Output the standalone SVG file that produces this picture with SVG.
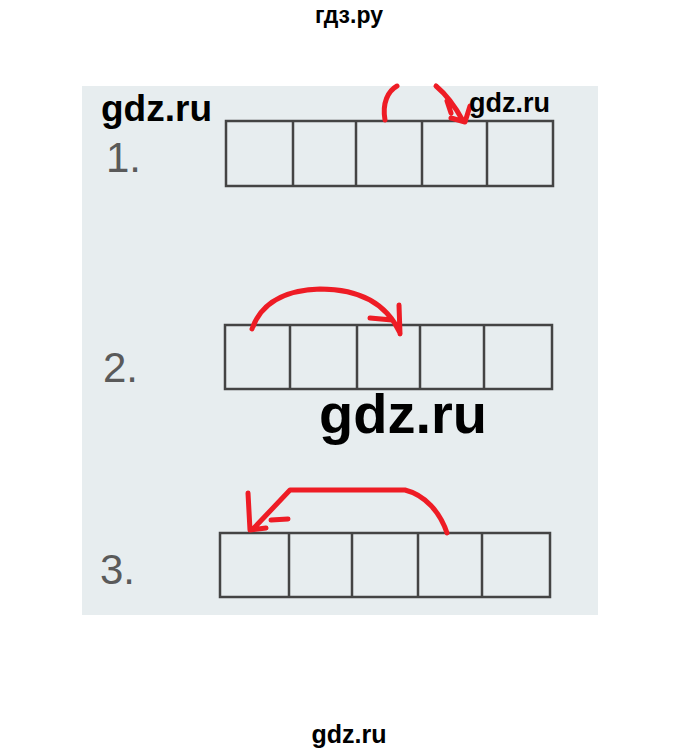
<svg xmlns="http://www.w3.org/2000/svg" width="698" height="753" viewBox="0 0 698 753">
<style>
.box{fill:none;stroke:#444;stroke-width:2.5}
.num{font-family:"Liberation Sans",Arial,sans-serif;font-size:42px;fill:#5a5a5a}
.wm{font-family:"Liberation Sans",Arial,sans-serif;font-weight:bold;fill:#000}
.arr{fill:none;stroke:#ee1c25;stroke-width:5;stroke-linecap:round;stroke-linejoin:round}
</style>
<rect width="698" height="753" fill="#fff"/>
<rect x="82" y="86" width="516" height="529" fill="#e7edef"/>
<g id="row1">
<rect class="box" x="226" y="121" width="327" height="65"/>
<path class="box" d="M293 121V186M356 121V186M422 121V186M487 121V186"/>
<text class="num" x="106" y="172">1.</text>
</g>
<g id="row2">
<rect class="box" x="225" y="325" width="327" height="64"/>
<path class="box" d="M290 325V389M357 325V389M420 325V389M484 325V389"/>
<text class="num" x="103" y="382">2.</text>
</g>
<g id="row3">
<rect class="box" x="220" y="533" width="330" height="64"/>
<path class="box" d="M289 533V597M352 533V597M418 533V597M482 533V597"/>
<text class="num" x="100" y="584">3.</text>
</g>
<g id="connectors">
<path class="arr" stroke-width="6" d="M385 120C382 103 388 91 397 86"/>
<path class="arr" stroke-width="6" d="M436 86C448 96 456 108 463 121M447 101L451 113M451 118L465 122L470 106"/>
<path class="arr" d="M252 329C262 300 290 290 320 289C355 289 385 300 400 333M399 305L400 334M370 318L392 320"/>
<path class="arr" d="M447 533C440 512 425 495 405 490L290 490L254 528M248 493L250 530L266 528M271 520L288 519"/>
</g>
<g id="watermarks">
<text class="wm" x="349" y="23" font-size="23" text-anchor="middle">гдз.ру</text>
<text class="wm" x="101" y="121" font-size="37">gdz.ru</text>
<text class="wm" x="469" y="112" font-size="27">gdz.ru</text>
<text class="wm" x="319" y="433" font-size="56">gdz.ru</text>
<text class="wm" x="349" y="743" font-size="25" text-anchor="middle">gdz.ru</text>
</g>
</svg>
